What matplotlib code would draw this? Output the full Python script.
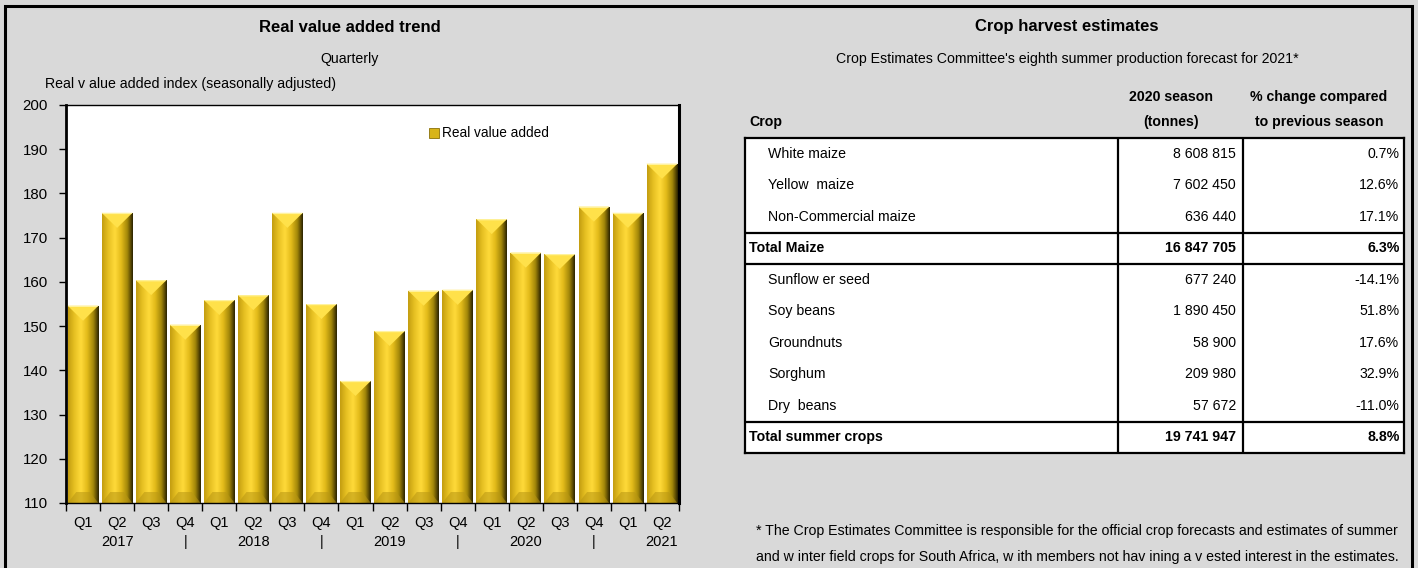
import numpy as np
import matplotlib
matplotlib.use("Agg")
import matplotlib.pyplot as plt
from matplotlib.colors import LinearSegmentedColormap
from matplotlib.patches import Rectangle, Polygon
from matplotlib.lines import Line2D

plt.rcParams['font.family'] = ['Liberation Sans Narrow', 'Liberation Sans', 'DejaVu Sans']

# ---- data ----
quarters = ["Q1", "Q2", "Q3", "Q4", "Q1", "Q2", "Q3", "Q4", "Q1", "Q2", "Q3", "Q4",
            "Q1", "Q2", "Q3", "Q4", "Q1", "Q2"]
years = ["", "2017", "", "|", "", "2018", "", "|", "", "2019", "", "|",
         "", "2020", "", "|", "", "2021"]
real_value_added = [154.6, 175.6, 160.4, 150.3, 155.9, 157.0, 175.6, 155.0, 137.6,
                    148.9, 158.0, 158.2, 174.2, 166.6, 166.3, 177.0, 175.6, 186.7]

crops = ["White maize", "Yellow  maize", "Non-Commercial maize", "Total Maize",
         "Sunflow er seed", "Soy beans", "Groundnuts", "Sorghum", "Dry  beans",
         "Total summer crops"]
tonnes_2020 = ["8 608 815", "7 602 450", "636 440", "16 847 705", "677 240",
               "1 890 450", "58 900", "209 980", "57 672", "19 741 947"]
pct_change = ["0.7%", "12.6%", "17.1%", "6.3%", "-14.1%", "51.8%", "17.6%",
              "32.9%", "-11.0%", "8.8%"]
is_total = [False, False, False, True, False, False, False, False, False, True]

bg = "#d9d9d9"
W, H = 1418, 568
fs = 10.2
fig = plt.figure(figsize=(W / 100, H / 100), dpi=100, facecolor=bg)

# outer frame
fig.patches.append(Rectangle((5 / W, -0.05), 1407 / W, 1.05 - 6 / H, transform=fig.transFigure,
                             fill=False, edgecolor="black", linewidth=2.2))

# ---- left: bar chart ----
fig.text(350 / W, 1 - 27 / H, "Real value added trend", ha="center", va="center",
         fontsize=12, fontweight="bold")
fig.text(350 / W, 1 - 59 / H, "Quarterly", ha="center", va="center", fontsize=fs)
fig.text(45 / W, 1 - 84 / H, "Real v alue added index (seasonally adjusted)",
         ha="left", va="center", fontsize=fs)

ax = fig.add_axes([66 / W, 65 / H, 613 / W, 398 / H], facecolor="white")
x = np.arange(len(real_value_added))
base = 110
bars = ax.bar(x, np.array(real_value_added) - base, bottom=base, width=0.9,
              color="#e8c21d", edgecolor="none", zorder=2)

gold = LinearSegmentedColormap.from_list("gold", [
    (0.0, "#c29c10"), (0.2, "#e6c022"), (0.42, "#ffda3a"), (0.62, "#e3bb1a"),
    (0.82, "#a38709"), (0.93, "#5a4a04"), (1.0, "#262000")])
grad = np.linspace(0, 1, 256).reshape(1, -1)

ax.set_xlim(-0.5, len(x) - 0.5)
ax.set_ylim(110, 200)
px = (200 - 110) / 398.0  # data units per pixel
for b in bars:
    x0, w, top = b.get_x(), b.get_width(), b.get_y() + b.get_height()
    im = ax.imshow(grad, extent=[x0, x0 + w, base, top], aspect="auto", cmap=gold,
                   zorder=3, interpolation="bicubic")
    im.set_clip_path(b)
    xc = x0 + w / 2
    ax.add_patch(Polygon([(x0, top), (x0 + w, top), (xc, top - 15 * px)],
                         closed=True, facecolor="#ffe14a", edgecolor="none", zorder=4))
    ax.add_patch(Polygon([(x0, top), (x0 + w, top), (x0 + w - 0.04, top - 1.2 * px),
                          (x0 + 0.04, top - 1.2 * px)],
                         closed=True, facecolor="#fff3a0", edgecolor="none", zorder=4))
    ax.add_patch(Polygon([(x0, base), (x0 + w, base), (x0 + w - 0.25, base + 11 * px),
                          (x0 + 0.25, base + 11 * px)],
                         closed=True, facecolor="#b89613", alpha=0.55, edgecolor="none", zorder=4))
ax.set_xlim(-0.5, len(x) - 0.5)
ax.set_ylim(110, 200)

ax.set_yticks(np.arange(110, 201, 10))
ax.tick_params(axis="y", direction="out", length=5, width=1, labelsize=10.8, pad=8)
ax.set_xticks(x)
ax.set_xticklabels([q + "\n" + y for q, y in zip(quarters, years)], fontsize=10.5,
                   linespacing=1.5)
ax.set_xticks(np.arange(-0.5, len(x), 1), minor=True)
ax.tick_params(axis="x", which="major", length=0, pad=9)
ax.tick_params(axis="x", which="minor", direction="out", length=6, width=1)
ax.spines["left"].set_linewidth(2)
ax.spines["bottom"].set_linewidth(1)
ax.spines["top"].set_linewidth(1)
ax.spines["right"].set_linewidth(2.2)
for s in ax.spines.values():
    s.set_zorder(6)

leg_handle = Line2D([], [], linestyle="none", marker="s", markersize=6.5,
                    markerfacecolor="#d8b418", markeredgecolor="#8a7008", markeredgewidth=0.6)
ax.legend([leg_handle], ["Real value added"], loc="upper left", bbox_to_anchor=(0.585, 0.96),
          frameon=False, fontsize=9.8, handlelength=0.6, handletextpad=0.25, borderaxespad=0)

# ---- right: table ----
fig.text(1067 / W, 1 - 27 / H, "Crop harvest estimates", ha="center", va="center",
         fontsize=12, fontweight="bold")
fig.text(1067 / W, 1 - 59 / H,
         "Crop Estimates Committee's eighth summer production forecast for 2021*",
         ha="center", va="center", fontsize=fs)

tx = fig.add_axes([745 / W, 115 / H, 659 / W, 315 / H], facecolor="white")
n = len(crops)
tx.set_xlim(0, 1)
tx.set_ylim(n, 0)
tx.set_xticks([])
tx.set_yticks([])
for s in tx.spines.values():
    s.set_linewidth(1.6)
    s.set_clip_on(False)
c1, c2 = 0.566, 0.755
for c in (c1, c2):
    tx.axvline(c, color="black", linewidth=1.6)
for r in (3, 4, 9):
    tx.axhline(r, color="black", linewidth=1.6)

for i in range(n):
    yc = i + 0.5
    if is_total[i]:
        tx.text(0.006, yc, crops[i], ha="left", va="center", fontsize=fs, fontweight="bold")
        fw = "bold"
    else:
        tx.text(0.035, yc, crops[i], ha="left", va="center", fontsize=fs)
        fw = "normal"
    tx.text(c2 - 0.01, yc, tonnes_2020[i], ha="right", va="center", fontsize=fs, fontweight=fw)
    tx.text(0.993, yc, pct_change[i], ha="right", va="center", fontsize=fs, fontweight=fw)

tx.text(0.006, -0.5, "Crop", ha="left", va="center", fontsize=fs, fontweight="bold",
        clip_on=False)
tx.text(0.646, -1.3, "2020 season", ha="center", va="center", fontsize=fs,
        fontweight="bold", clip_on=False)
tx.text(0.646, -0.5, "(tonnes)", ha="center", va="center", fontsize=fs,
        fontweight="bold", clip_on=False)
tx.text(0.871, -1.3, "% change compared", ha="center", va="center", fontsize=fs,
        fontweight="bold", clip_on=False)
tx.text(0.871, -0.5, "to previous season", ha="center", va="center", fontsize=fs,
        fontweight="bold", clip_on=False)

fig.text(1077 / W, 1 - 531 / H,
         "* The Crop Estimates Committee is responsible for the official crop forecasts and estimates of summer",
         ha="center", va="center", fontsize=fs)
fig.text(1077 / W, 1 - 557 / H,
         "and w inter field crops for South Africa, w ith members not hav ining a v ested interest in the estimates.",
         ha="center", va="center", fontsize=fs)

fig.savefig("out.png", dpi=100, facecolor=bg)
